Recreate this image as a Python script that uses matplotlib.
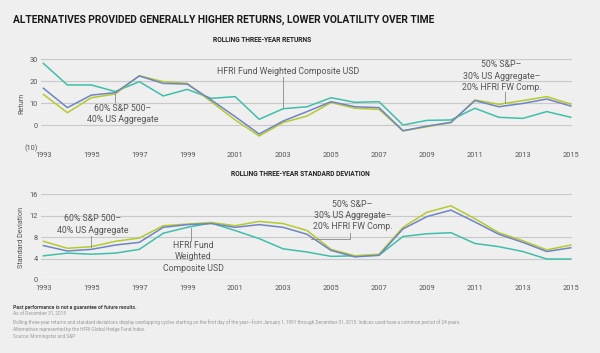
import matplotlib
matplotlib.use("Agg")
import matplotlib.pyplot as plt
from matplotlib.ticker import FixedLocator, FixedFormatter

plt.rcParams['font.family'] = ['Roboto', 'DejaVu Sans']

years = list(range(1993, 2016))

# rolling three-year returns (%)
ret_hfri = [28.0, 18.2, 18.2, 15.2, 19.7, 13.2, 16.2, 12.1, 12.9, 2.6, 7.4,
            8.3, 12.4, 10.3, 10.6, 0.0, 2.1, 2.3, 7.6, 3.5, 3.0, 6.1, 3.5]
ret_6040 = [13.9, 5.6, 12.4, 14.1, 22.4, 19.7, 18.9, 10.6, 2.3, -5.0, 1.1,
            4.1, 10.2, 7.6, 7.1, -2.7, -0.8, 1.1, 11.4, 9.4, 11.1, 12.9, 9.5]
ret_503020 = [16.7, 7.9, 13.6, 14.7, 22.3, 18.9, 18.6, 11.4, 3.8, -4.1, 1.8,
              6.1, 10.6, 8.3, 7.9, -2.6, -0.5, 1.2, 11.1, 8.3, 9.8, 11.8, 8.6]

# rolling three-year standard deviation (%)
sd_hfri = [4.5, 5.0, 4.8, 5.0, 5.7, 8.7, 9.8, 10.6, 9.2, 7.7, 5.8,
           5.2, 4.4, 4.5, 4.6, 8.1, 8.6, 8.8, 6.8, 6.2, 5.3, 3.9, 3.9]
sd_6040 = [7.2, 5.9, 6.2, 7.2, 7.8, 10.1, 10.4, 10.7, 10.1, 10.9, 10.5,
           9.2, 5.7, 4.5, 4.8, 9.8, 12.6, 13.8, 11.4, 8.8, 7.3, 5.6, 6.5]
sd_503020 = [6.4, 5.4, 5.7, 6.5, 7.0, 9.8, 10.3, 10.5, 9.8, 10.3, 9.8,
             8.5, 5.5, 4.3, 4.6, 9.5, 11.8, 13.0, 10.8, 8.5, 7.0, 5.3, 6.0]

ret_ticks = [-10, 0, 10, 20, 30]
ret_labels = ['(10)', '0', '10', '20', '30']
sd_ticks = [0, 4, 8, 12, 16]
year_ticks = list(range(1993, 2016, 2))

teal = '#3fbfa9'
blue = '#6f84c4'
green = '#b7c92e'
grid = '#c9c9c9'
txt = '#555555'
ptr = '#888888'
bg = '#efefef'
ann = 6.3

fig = plt.figure(figsize=(6.0, 3.53), dpi=100, facecolor=bg)

def style(ax, ticks, labels, ylabel):
    ax.set_facecolor(bg)
    for s in ax.spines.values():
        s.set_visible(False)
    ax.set_xlim(1992.9, 2015.05)
    ax.set_ylim(ticks[0], ticks[-1])
    ax.yaxis.set_major_locator(FixedLocator(ticks))
    ax.yaxis.set_major_formatter(FixedFormatter(labels))
    ax.set_xticks(year_ticks)
    ax.tick_params(length=0, labelsize=5.3, colors=txt, pad=2.5)
    ax.tick_params(axis='x', pad=3.5)
    ax.grid(axis='y', color=grid, lw=0.8)
    ax.set_axisbelow(True)
    ax.set_ylabel(ylabel, fontsize=5.2, color=txt)
    ax.yaxis.set_label_coords(-0.030, 0.5)

# top: returns
ax1 = fig.add_axes([41/600, 1-147/353, 531/600, 88/353])
style(ax1, ret_ticks, ret_labels, 'Return')
ax1.plot(years, ret_hfri, color=teal, lw=1.1)
ax1.plot(years, ret_6040, color=green, lw=1.1)
ax1.plot(years, ret_503020, color=blue, lw=1.1)

ax1.text(2003.2, 24.5, 'HFRI Fund Weighted Composite USD', fontsize=ann, color=txt,
         ha='center', va='center')
ax1.plot([2003, 2003], [22.0, 7.6], color=ptr, lw=0.6)
ax1.text(1996.3, 5.0, '60% S&P 500\u2013\n40% US Aggregate', fontsize=ann, color=txt,
         ha='center', va='center', linespacing=1.4)
ax1.plot([1996, 1996], [10.4, 14.0], color=ptr, lw=0.6)
ax1.text(2012.1, 22.2, '50% S&P\u2013\n30% US Aggregate\u2013\n20% HFRI FW Comp.',
         fontsize=ann, color=txt, ha='center', va='center', linespacing=1.35)
ax1.plot([2012.25, 2012.25], [15.0, 9.8], color=ptr, lw=0.6)

# bottom: standard deviation
ax2 = fig.add_axes([41/600, 1-280/353, 531/600, 86/353])
style(ax2, sd_ticks, [str(t) for t in sd_ticks], 'Standard Deviation')
ax2.plot(years, sd_hfri, color=teal, lw=1.1)
ax2.plot(years, sd_6040, color=green, lw=1.1)
ax2.plot(years, sd_503020, color=blue, lw=1.1)

ax2.text(1995.05, 10.3, '60% S&P 500\u2013\n40% US Aggregate', fontsize=ann, color=txt,
         ha='center', va='center', linespacing=1.4)
ax2.plot([1995, 1995], [8.2, 6.1], color=ptr, lw=0.6)
ax2.text(1999.26, 4.3, 'HFRI Fund\nWeighted\nComposite USD', fontsize=ann, color=txt,
         ha='center', va='center', linespacing=1.35)
ax2.plot([1999.14, 1999.14], [7.2, 9.7], color=ptr, lw=0.6)
ax2.text(2005.9, 12.0, '50% S&P\u2013\n30% US Aggregate\u2013\n20% HFRI FW Comp.',
         fontsize=ann, color=txt, ha='center', va='center', linespacing=1.35)
ax2.plot([2005.78, 2005.78, 2004.15], [8.8, 7.6, 7.6], color=ptr, lw=0.6)

# titles
fig.text(13/600, 1-20/353, 'ALTERNATIVES PROVIDED GENERALLY HIGHER RETURNS, LOWER VOLATILITY OVER TIME',
         fontsize=7.4, fontweight='bold', color='#1a1a1a', va='center')
fig.text(262/600, 1-40/353, 'ROLLING THREE-YEAR RETURNS', fontsize=4.8,
         fontweight='bold', color='#222222', ha='center', va='center')
fig.text(300/600, 1-174/353, 'ROLLING THREE-YEAR STANDARD DEVIATION', fontsize=4.8,
         fontweight='bold', color='#222222', ha='center', va='center')

# footnotes
fig.text(13/600, 1-307/353, 'Past performance is not a guarantee of future results.',
         fontsize=3.7, fontweight='bold', color='#444444', va='center')
notes = [
    'As of December 31, 2015',
    'Rolling three-year returns and standard deviations display overlapping cycles starting on the first day of the year\u2014from January 1, 1991 through December 31, 2015. Indices used have a common period of 24 years.',
    'Alternatives represented by the HFRI Global Hedge Fund Index.',
    'Source: Morningstar and S&P',
]
for i, line in enumerate(notes):
    fig.text(13/600, 1-(314.5+7.4*i)/353, line, fontsize=3.4, color='#9a9a9a', va='center')

fig.savefig('out.png', dpi=100, facecolor=bg)
